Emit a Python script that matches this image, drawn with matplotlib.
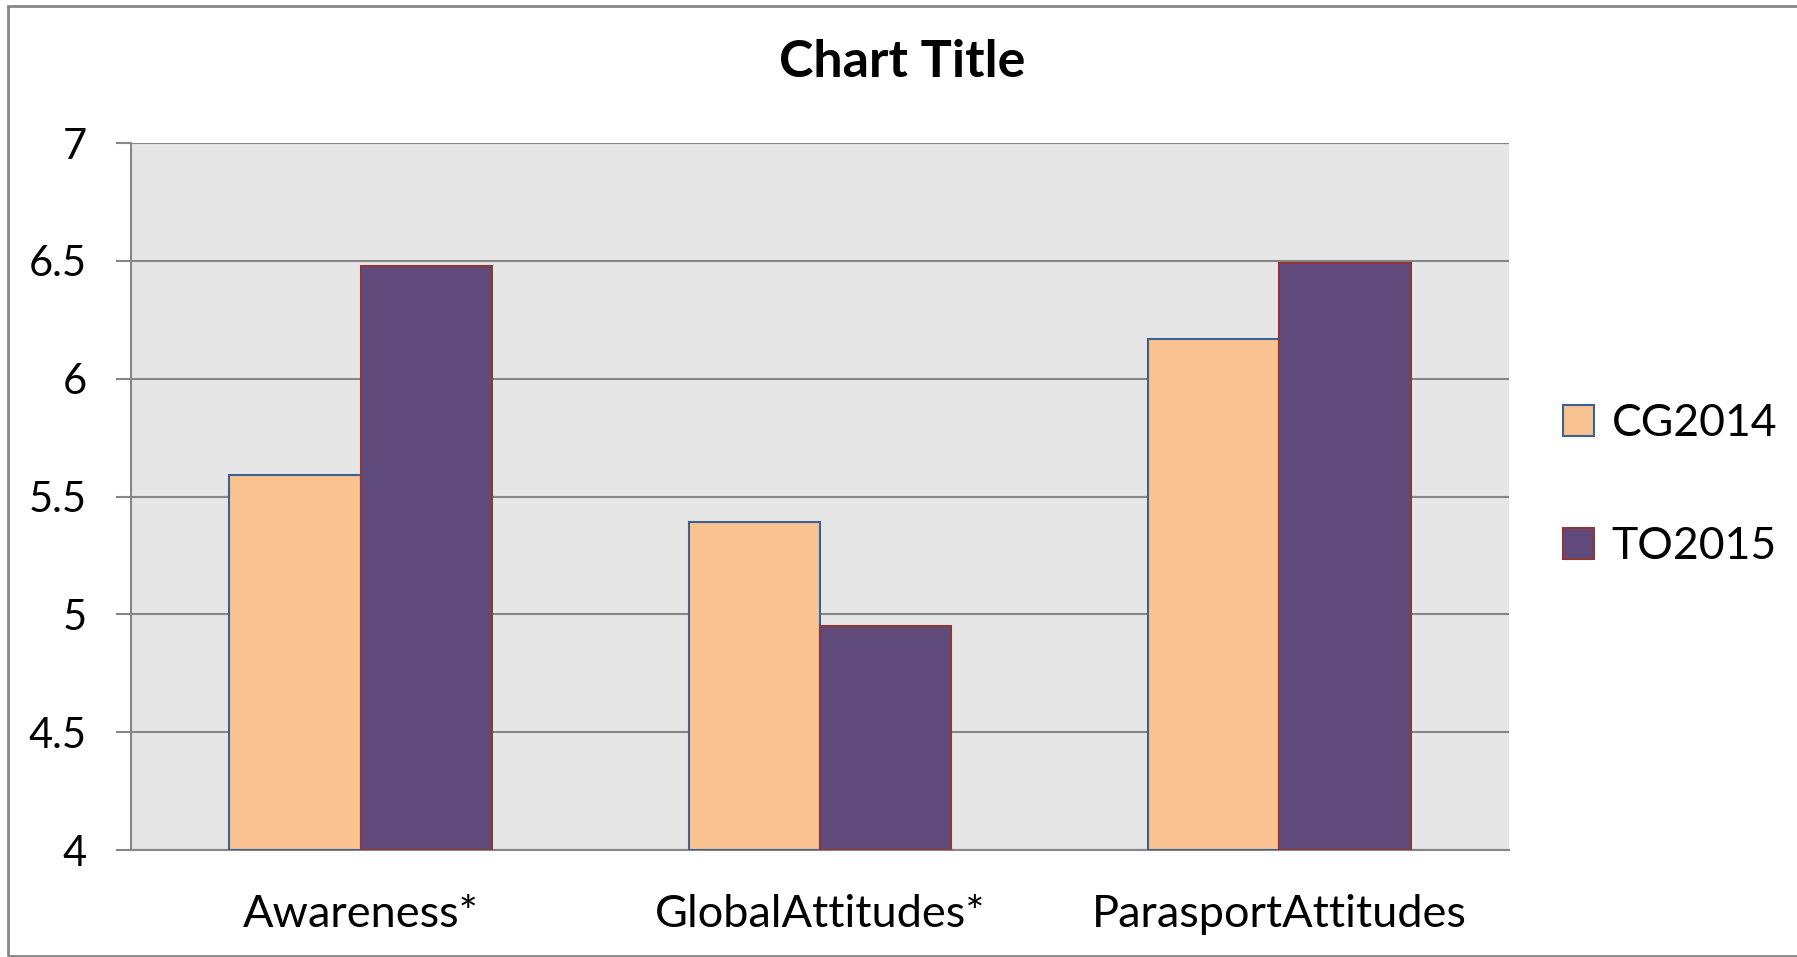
import numpy as np
import matplotlib
matplotlib.use("Agg")
import matplotlib.pyplot as plt
from matplotlib.patches import Rectangle

categories = ["Awareness*", "GlobalAttitudes*", "ParasportAttitudes"]
series_names = ["CG2014", "TO2015"]
cg2014 = [5.59, 5.39, 6.17]
to2015 = [6.48, 4.95, 6.49]
y_ticks = [4, 4.5, 5, 5.5, 6, 6.5, 7]
y_tick_labels = ["4", "4.5", "5", "5.5", "6", "6.5", "7"]

plt.rcParams['font.family'] = ['Lato', 'DejaVu Sans']

W, H = 1797, 957
fig = plt.figure(figsize=(W / 100, H / 100), dpi=100)
fig.patch.set_facecolor("white")

# chart area border (right side is cut off in the original)
fig.patches.append(Rectangle((8 / W, 1 - 956 / H), 1.0, (956 - 6) / H,
                             transform=fig.transFigure, fill=False,
                             edgecolor="#868686", linewidth=2.0))

ax = fig.add_axes([131 / W, 1 - 850 / H, 1378 / W, 707 / H])
ax.set_facecolor("#E6E6E6")

x = np.arange(len(categories))
bw = 1 / 3.5
ax.bar(x - bw / 2, [v - 4 for v in cg2014], bw, bottom=4, color="#F9C291",
       edgecolor="#3A6394", linewidth=1.5, label=series_names[0], zorder=3)
ax.bar(x + bw / 2, [v - 4 for v in to2015], bw, bottom=4, color="#604A7B",
       edgecolor="#8C3836", linewidth=1.5, label=series_names[1], zorder=3)

ax.set_xlim(-0.5, len(categories) - 0.5)
ax.set_ylim(4, 7)
ax.set_yticks(y_ticks)
ax.set_yticklabels(y_tick_labels)
ax.set_xticks(x)
ax.set_xticklabels(categories)
ax.yaxis.grid(True, color="#868686", linewidth=1.5, zorder=0)
ax.set_axisbelow(True)

for s in ["top", "right"]:
    ax.spines[s].set_visible(False)
for s in ["left", "bottom"]:
    ax.spines[s].set_color("#868686")
    ax.spines[s].set_linewidth(1.5)

ax.tick_params(axis="y", length=11, width=1.5, color="#868686", pad=21,
               labelsize=30, labelcolor="black")
ax.tick_params(axis="x", length=0, pad=32, labelsize=32.5, labelcolor="black")

fig.text(0.502, 1 - 77 / H, "Chart Title", ha="center", va="baseline",
         fontsize=37.5, fontweight="bold")

leg = ax.legend(loc="center left", bbox_to_anchor=(1.01, 0.516), frameon=False,
                fontsize=32, handlelength=0.7, handleheight=0.7,
                handletextpad=0.4, labelspacing=1.85)

fig.savefig("out.png", dpi=100, facecolor="white")
